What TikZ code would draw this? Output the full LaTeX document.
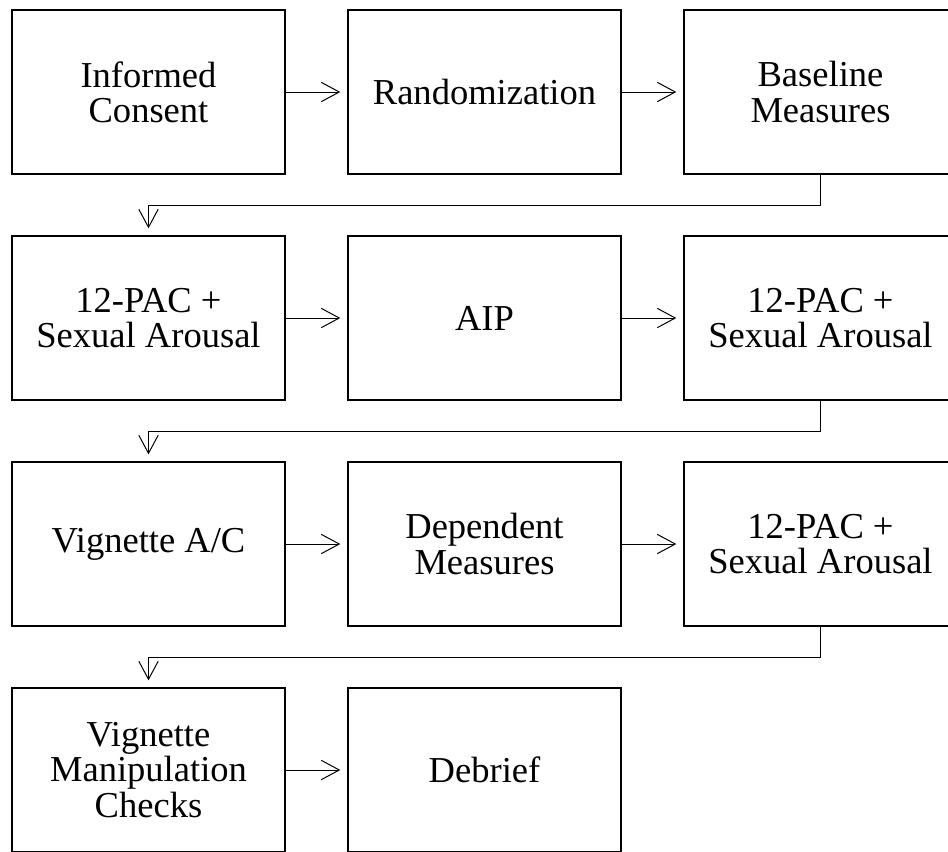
\documentclass[tikz,border=0pt]{standalone}
\usepackage{fontspec}
\setmainfont{Liberation Serif}
\usetikzlibrary{arrows.meta}
\begin{document}
\begin{tikzpicture}[x=0.75pt,y=-0.75pt,
  stepbox/.style={draw=black, line width=1.5pt, rectangle, minimum width=204.75pt, minimum height=123pt, align=center, inner sep=2pt, font=\fontsize{27.4}{26.3}\selectfont},
  arr/.style={draw=black, line width=0.75pt, -{Straight Barb[length=13.5pt,width=14.5pt,line width=0.75pt]}, shorten >=5pt}]
\useasboundingbox (0,0) rectangle (948,851);
\node[stepbox] (a1) at (148.5,92) {Informed\\Consent};
\node[stepbox] (a2) at (484.5,92) {Randomization};
\node[stepbox] (a3) at (820.5,92) {Baseline\\Measures};
\node[stepbox] (b1) at (148.5,318) {12-PAC +\\Sexual Arousal};
\node[stepbox] (b2) at (484.5,318) {AIP};
\node[stepbox] (b3) at (820.5,318) {12-PAC +\\Sexual Arousal};
\node[stepbox] (c1) at (148.5,544) {Vignette A/C};
\node[stepbox] (c2) at (484.5,544) {Dependent\\Measures};
\node[stepbox] (c3) at (820.5,544) {12-PAC +\\Sexual Arousal};
\node[stepbox] (d1) at (148.5,770) {Vignette\\Manipulation\\Checks};
\node[stepbox] (d2) at (484.5,770) {Debrief};
\coordinate (m1) at (820.5,205);
\coordinate (m2) at (820.5,431);
\coordinate (m3) at (820.5,657);
\draw[arr] (a1.east) -- (a2.west);
\draw[arr] (a2.east) -- (a3.west);
\draw[arr] (a3.south) -- (m1) -| (b1.north);
\draw[arr] (b1.east) -- (b2.west);
\draw[arr] (b2.east) -- (b3.west);
\draw[arr] (b3.south) -- (m2) -| (c1.north);
\draw[arr] (c1.east) -- (c2.west);
\draw[arr] (c2.east) -- (c3.west);
\draw[arr] (c3.south) -- (m3) -| (d1.north);
\draw[arr] (d1.east) -- (d2.west);
\end{tikzpicture}
\end{document}
